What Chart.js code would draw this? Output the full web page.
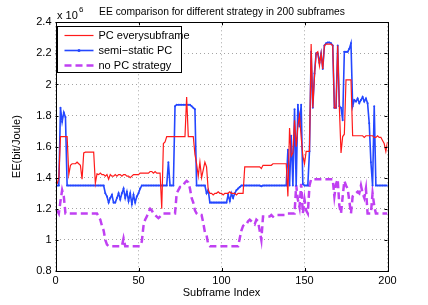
<!DOCTYPE html>
<html>
<head>
<meta charset="utf-8">
<script src="https://cdn.jsdelivr.net/npm/chart.js@4/dist/chart.umd.min.js"></script>
<style>
    html, body { margin: 0; padding: 0; background: #fff; }
    #wrap { width: 428px; height: 305px; }
</style>
</head>
<body>
<div id="wrap"><canvas id="eeChart" width="428" height="305"></canvas></div>
<script>
// EE values, one per subframe (1..200), in units of 10^6 bit/Joule
const pcEverySubframe = [
    1.36, 1.40, 1.665, 1.665, 1.665, 1.665, 1.665, 1.42, 1.48, 1.49,
    1.49, 1.49, 1.50, 1.49, 1.48, 1.39, 1.56, 1.565, 1.565, 1.565,
    1.565, 1.565, 1.565, 1.365, 1.425, 1.42, 1.43, 1.42, 1.42, 1.41,
    1.42, 1.39, 1.42, 1.41, 1.41, 1.42, 1.41, 1.42, 1.42, 1.41,
    1.42, 1.42, 1.41, 1.41, 1.40, 1.41, 1.42, 1.42, 1.42, 1.42,
    1.43, 1.43, 1.43, 1.43, 1.43, 1.43, 1.44, 1.44, 1.43, 1.44,
    1.43, 1.43, 1.43, 1.20, 1.62, 1.63, 1.665, 1.665, 1.665, 1.665,
    1.665, 1.665, 1.665, 1.665, 1.665, 1.665, 1.665, 1.665, 1.92, 1.665,
    1.665, 1.665, 1.665, 1.55, 1.49, 1.41, 1.50, 1.40, 1.45, 1.50,
    1.47, 1.32, 1.30, 1.30, 1.29, 1.30, 1.30, 1.31, 1.30, 1.30,
    1.29, 1.30, 1.30, 1.30, 1.31, 1.30, 1.30, 1.30, 1.29, 1.30,
    1.30, 1.30, 1.30, 1.47, 1.47, 1.47, 1.47, 1.47, 1.47, 1.47,
    1.47, 1.47, 1.47, 1.46, 1.48, 1.48, 1.48, 1.48, 1.48, 1.48,
    1.49, 1.49, 1.49, 1.49, 1.49, 1.49, 1.49, 1.49, 1.49, 1.28,
    1.72, 1.54, 1.56, 1.77, 1.60, 1.73, 1.80, 1.66, 1.54, 1.49,
    1.57, 1.57, 1.57, 2.26, 1.85, 2.05, 2.20, 2.21, 2.12, 2.20,
    2.10, 2.25, 2.26, 2.26, 2.26, 2.26, 2.25, 1.85, 1.85, 2.25,
    1.85, 1.56, 1.665, 1.68, 2.03, 2.03, 2.03, 2.03, 1.67, 1.67,
    1.67, 1.67, 1.67, 1.67, 1.67, 1.66, 1.67, 1.67, 1.67, 1.67,
    1.67, 1.66, 1.66, 1.67, 1.66, 1.66, 1.64, 1.62, 1.57, 1.63
];

const semiStaticPC = [
    1.35, 1.35, 1.85, 1.76, 1.82, 1.79, 1.35, 1.35, 1.35, 1.35,
    1.35, 1.35, 1.35, 1.35, 1.35, 1.35, 1.35, 1.35, 1.35, 1.35,
    1.35, 1.35, 1.35, 1.35, 1.35, 1.35, 1.35, 1.35, 1.35, 1.30,
    1.28, 1.24, 1.27, 1.29, 1.24, 1.24, 1.27, 1.30, 1.26, 1.30,
    1.33, 1.27, 1.31, 1.25, 1.30, 1.23, 1.29, 1.24, 1.28, 1.30,
    1.33, 1.35, 1.35, 1.35, 1.35, 1.35, 1.35, 1.35, 1.35, 1.35,
    1.35, 1.35, 1.35, 1.35, 1.35, 1.35, 1.35, 1.50, 1.35, 1.35,
    1.35, 1.86, 1.87, 1.87, 1.87, 1.87, 1.87, 1.87, 1.87, 1.87,
    1.87, 1.86, 1.85, 1.84, 1.35, 1.35, 1.35, 1.35, 1.35, 1.35,
    1.30, 1.32, 1.24, 1.24, 1.24, 1.24, 1.24, 1.24, 1.24, 1.24,
    1.24, 1.24, 1.24, 1.29, 1.25, 1.30, 1.27, 1.30, 1.32, 1.33,
    1.34, 1.35, 1.35, 1.35, 1.35, 1.35, 1.35, 1.35, 1.35, 1.35,
    1.35, 1.35, 1.35, 1.345, 1.35, 1.35, 1.35, 1.35, 1.35, 1.35,
    1.35, 1.35, 1.35, 1.35, 1.35, 1.35, 1.35, 1.35, 1.35, 1.58,
    1.35, 1.67, 1.35, 1.84, 1.35, 1.87, 1.73, 1.87, 1.36, 1.35,
    1.35, 1.35, 1.57, 2.21, 1.85, 2.07, 2.20, 2.20, 2.14, 2.20,
    2.10, 2.25, 2.265, 2.27, 2.27, 2.265, 2.25, 1.85, 1.85, 2.25,
    1.86, 1.85, 1.77, 2.21, 2.21, 2.21, 2.23, 2.265, 1.86, 1.90,
    1.89, 1.91, 1.88, 1.90, 1.92, 1.89, 1.91, 1.88, 1.75, 1.50,
    1.35, 1.86, 1.35, 1.35, 1.35, 1.35, 1.35, 1.35, 1.35, 1.35
];

const noPCStrategy = [
    1.19, 1.17, 1.25, 1.32, 1.28, 1.17, 1.17, 1.17, 1.17, 1.17,
    1.17, 1.17, 1.17, 1.17, 1.17, 1.17, 1.17, 1.17, 1.17, 1.17,
    1.17, 1.17, 1.17, 1.17, 1.17, 1.15, 1.13, 1.09, 1.06, 1.00,
    0.97, 0.96, 0.96, 0.96, 0.96, 0.96, 0.96, 0.96, 0.96, 0.96,
    1.01, 0.96, 0.96, 0.96, 0.96, 0.96, 0.96, 0.96, 0.96, 0.96,
    0.96, 0.99, 1.09, 1.13, 1.15, 1.18, 1.20, 1.19, 1.17, 1.16,
    1.15, 1.14, 1.15, 1.16, 1.17, 1.17, 1.17, 1.17, 1.17, 1.17,
    1.17, 1.17, 1.30, 1.32, 1.34, 1.34, 1.35, 1.37, 1.38, 1.37,
    1.33, 1.27, 1.24, 1.19, 1.17, 1.16, 1.16, 1.16, 1.11, 1.05,
    1.03, 0.97, 0.96, 0.96, 0.96, 0.96, 0.96, 0.96, 0.96, 0.96,
    0.96, 0.96, 0.96, 0.96, 0.96, 0.96, 0.96, 0.96, 0.96, 0.96,
    1.01, 1.06, 1.09, 1.10, 1.10, 1.12, 1.13, 1.12, 1.11, 1.10,
    1.13, 1.12, 1.06, 1.00, 1.15, 1.15, 1.15, 1.15, 1.15, 1.16,
    1.15, 1.16, 1.16, 1.16, 1.16, 1.16, 1.16, 1.16, 1.17, 1.17,
    1.17, 1.17, 1.17, 1.17, 1.35, 1.26, 1.21, 1.36, 1.17, 1.26,
    1.19, 1.17, 1.35, 1.39, 1.39, 1.39, 1.39, 1.39, 1.39, 1.39,
    1.39, 1.39, 1.39, 1.39, 1.39, 1.39, 1.39, 1.28, 1.36, 1.39,
    1.22, 1.17, 1.28, 1.38, 1.35, 1.33, 1.25, 1.17, 1.28, 1.29,
    1.30, 1.31, 1.30, 1.35, 1.30, 1.27, 1.33, 1.17, 1.17, 1.17,
    1.30, 1.22, 1.17, 1.17, 1.17, 1.17, 1.17, 1.17, 1.17, 1.17
];

const seriesNames = ["PC everysubframe", "semi\u2212static PC", "no PC strategy"];
const xTicks = [0, 50, 100, 150, 200];
const yTicks = [0.8, 1, 1.2, 1.4, 1.6, 1.8, 2, 2.2, 2.4];

const FONT = "Liberation Sans, Arial, Helvetica, sans-serif";

// subframe index for each value
const subframes = pcEverySubframe.map((v, i) => i + 1);
const toPoints = (vals) => vals.map((v, i) => ({ x: subframes[i], y: v }));

const colors = ["#ff1a1a", "#2447ff", "#c040f2"];

// MATLAB-like frame: box, inward ticks, title, exponent and legend
const matlabFrame = {
    id: "matlabFrame",
    afterDatasetsDraw(chart) {
        const { ctx, chartArea: a, scales } = chart;
        ctx.save();
        ctx.strokeStyle = "#000";
        ctx.lineWidth = 1;
        ctx.strokeRect(Math.round(a.left) + 0.5, Math.round(a.top) + 0.5,
            Math.round(a.right - a.left), Math.round(a.bottom - a.top));

        const tl = 3;
        ctx.beginPath();
        xTicks.forEach((t) => {
            const x = Math.round(scales.x.getPixelForValue(t)) + 0.5;
            ctx.moveTo(x, a.bottom); ctx.lineTo(x, a.bottom - tl);
            ctx.moveTo(x, a.top); ctx.lineTo(x, a.top + tl);
        });
        yTicks.forEach((t) => {
            const y = Math.round(scales.y.getPixelForValue(t)) + 0.5;
            ctx.moveTo(a.left, y); ctx.lineTo(a.left + tl, y);
            ctx.moveTo(a.right, y); ctx.lineTo(a.right - tl, y);
        });
        ctx.stroke();
        ctx.restore();
    },
    afterDraw(chart) {
        const { ctx } = chart;
        ctx.save();
        ctx.fillStyle = "#000";

        // title
        ctx.font = "10.3px " + FONT;
        ctx.textAlign = "center";
        ctx.textBaseline = "middle";
        ctx.fillText("EE comparison for different strategy in 200 subframes", 222, 12);

        // exponent label
        ctx.font = "11px " + FONT;
        ctx.textAlign = "left";
        ctx.fillText("x 10", 57, 16);
        ctx.font = "8px " + FONT;
        ctx.fillText("6", 79, 10);

        // legend
        const lx = 57.5, ly = 26.5, lw = 124, lh = 46;
        ctx.fillStyle = "#fff";
        ctx.fillRect(lx, ly, lw, lh);
        ctx.strokeStyle = "#000";
        ctx.lineWidth = 1;
        ctx.strokeRect(lx, ly, lw, lh);

        ctx.font = "11px " + FONT;
        ctx.textBaseline = "middle";
        chart.data.datasets.forEach((ds, i) => {
            const y = ly + 9 + i * 15;
            ctx.save();
            ctx.strokeStyle = ds.borderColor;
            ctx.lineWidth = ds.borderWidth;
            ctx.setLineDash(ds.borderDash || []);
            ctx.beginPath();
            ctx.moveTo(lx + 7, y);
            ctx.lineTo(lx + 36, y);
            ctx.stroke();
            if (ds.pointRadius) {
                ctx.fillStyle = ds.borderColor;
                ctx.beginPath();
                ctx.arc(lx + 21.5, y, 1.5, 0, Math.PI * 2);
                ctx.fill();
            }
            ctx.restore();
            ctx.fillStyle = "#000";
            ctx.fillText(seriesNames[i], lx + 41, y);
        });
        ctx.restore();
    }
};

const ctx = document.getElementById("eeChart").getContext("2d");
const eeChart = new Chart(ctx, {
    type: "line",
    data: {
        datasets: [
            {
                label: seriesNames[0],
                data: toPoints(pcEverySubframe),
                borderColor: colors[0],
                borderWidth: 1.2,
                pointRadius: 0,
                tension: 0,
            },
            {
                label: seriesNames[1],
                data: toPoints(semiStaticPC),
                borderColor: colors[1],
                backgroundColor: colors[1],
                borderWidth: 1.6,
                pointRadius: 1,
                pointBorderWidth: 0,
                tension: 0,
            },
            {
                label: seriesNames[2],
                data: toPoints(noPCStrategy),
                borderColor: colors[2],
                borderWidth: 2.5,
                borderDash: [7, 4],
                pointRadius: 0,
                tension: 0,
            },
        ],
    },
    options: {
        responsive: false,
        animation: false,
        devicePixelRatio: 1,
        layout: { padding: { left: 0, right: 40.5, top: 22.3, bottom: 0 } },
        plugins: {
            legend: { display: false },
            title: { display: false },
            tooltip: { enabled: false },
        },
        scales: {
            x: {
                type: "linear",
                min: 0,
                max: 200,
                afterBuildTicks: (s) => { s.ticks = xTicks.map((v) => ({ value: v })); },
                ticks: { color: "#000", font: { family: FONT, size: 11 }, padding: 3, maxRotation: 0 },
                grid: { color: "rgba(0,0,0,0.45)", drawTicks: false, lineWidth: 0.8 },
                border: { display: false, dash: [1, 3] },
                title: { display: true, text: "Subframe Index", color: "#000", font: { family: FONT, size: 11 }, padding: { top: 0, bottom: 5 } },
                afterFit: (s) => { s.height = 34; },
            },
            y: {
                min: 0.8,
                max: 2.4,
                afterBuildTicks: (s) => { s.ticks = yTicks.map((v) => ({ value: v })); },
                ticks: { color: "#000", font: { family: FONT, size: 11 }, padding: 4, callback: (v) => String(+v.toFixed(1)) },
                grid: { color: "rgba(0,0,0,0.45)", drawTicks: false, lineWidth: 0.8 },
                border: { display: false, dash: [1, 3] },
                title: { display: true, text: "EE(bit/Joule)", color: "#000", font: { family: FONT, size: 11 }, padding: { top: 10, bottom: 0 } },
                afterFit: (s) => { s.width = 55.5; },
            },
        },
    },
    plugins: [matlabFrame],
});
</script>
</body>
</html>
